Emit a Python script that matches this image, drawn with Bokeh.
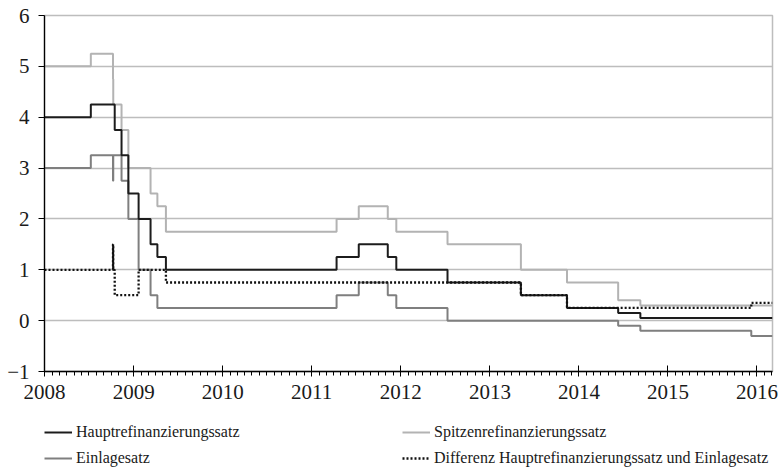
import pandas as pd
from bokeh.plotting import figure
from bokeh.layouts import column
from bokeh.models import (FixedTicker, DatetimeTickFormatter, Range1d, Legend,
                          LegendItem, ColumnDataSource)
from bokeh.embed import file_html
from bokeh.resources import INLINE

# ---- data (ECB key rates, %) ----
end_date = "2016-03-05"

haupt_dates = ["2008-01-01", "2008-07-09", "2008-10-15", "2008-11-12", "2008-12-10",
               "2009-01-21", "2009-03-11", "2009-04-08", "2009-05-13", "2011-04-13",
               "2011-07-13", "2011-11-09", "2011-12-14", "2012-07-11", "2013-05-08",
               "2013-11-13", "2014-06-11", "2014-09-10"]
haupt_vals = [4.00, 4.25, 3.75, 3.25, 2.50, 2.00, 1.50, 1.25, 1.00, 1.25,
              1.50, 1.25, 1.00, 0.75, 0.50, 0.25, 0.15, 0.05]

spitzen_dates = ["2008-01-01", "2008-07-09", "2008-10-08", "2008-10-09", "2008-11-12",
                 "2008-12-10", "2009-03-11", "2009-04-08", "2009-05-13", "2011-04-13",
                 "2011-07-13", "2011-11-09", "2011-12-14", "2012-07-11", "2013-05-08",
                 "2013-11-13", "2014-06-11", "2014-09-10"]
spitzen_vals = [5.00, 5.25, 4.75, 4.25, 3.75, 3.00, 2.50, 2.25, 1.75, 2.00,
                2.25, 2.00, 1.75, 1.50, 1.00, 0.75, 0.40, 0.30]

einlage_dates = ["2008-01-01", "2008-07-09", "2008-10-08", "2008-10-09", "2008-11-12",
                 "2008-12-10", "2009-01-21", "2009-03-11", "2009-04-08", "2011-04-13",
                 "2011-07-13", "2011-11-09", "2011-12-14", "2012-07-11", "2014-06-11",
                 "2014-09-10", "2015-12-09"]
einlage_vals = [3.00, 3.25, 2.75, 3.25, 2.75, 2.00, 1.00, 0.50, 0.25, 0.50,
                0.75, 0.50, 0.25, 0.00, -0.10, -0.20, -0.30]

diff_dates = ["2008-01-01", "2008-10-08", "2008-10-09", "2008-10-15", "2009-01-21",
              "2009-05-13", "2013-05-08", "2013-11-13", "2015-12-09"]
diff_vals = [1.00, 1.50, 1.00, 0.50, 1.00, 0.75, 0.50, 0.25, 0.35]

tick_years = [2008, 2009, 2010, 2011, 2012, 2013, 2014, 2015, 2016]
y_ticks = [-1, 0, 1, 2, 3, 4, 5, 6]

labels = {
    "haupt": "Hauptrefinanzierungssatz",
    "spitzen": "Spitzenrefinanzierungssatz",
    "einlage": "Einlagesatz",
    "diff": "Differenz Hauptrefinanzierungssatz und Einlagesatz",
}

FONT = "'Liberation Serif', serif"

styles = {
    "spitzen": dict(line_color="#b3b3b3", line_width=2),
    "einlage": dict(line_color="#7f7f7f", line_width=2),
    "haupt": dict(line_color="#1c1c1c", line_width=2),
    "diff": dict(line_color="#111111", line_width=2.3, line_dash="2 2"),
}


def src(dates, vals):
    x = pd.to_datetime(dates + [end_date])
    y = vals + [vals[-1]]
    return ColumnDataSource(dict(x=x, y=y))


def ms(ts):
    return pd.Timestamp(ts).value / 1e6


sources = {
    "spitzen": src(spitzen_dates, spitzen_vals),
    "einlage": src(einlage_dates, einlage_vals),
    "haupt": src(haupt_dates, haupt_vals),
    "diff": src(diff_dates, diff_vals),
}

p = figure(width=781, height=408, x_axis_type="datetime",
           x_range=Range1d(pd.Timestamp("2008-01-01"), pd.Timestamp(end_date)),
           y_range=Range1d(-1, 6),
           output_backend="svg", toolbar_location=None, title=None,
           min_border_left=44, min_border_right=9, min_border_top=15,
           min_border_bottom=37)

p.background_fill_color = "white"
p.border_fill_color = "white"
p.outline_line_color = "#bdbdbd"
p.outline_line_width = 1.5

# grid
p.xgrid.visible = False
p.ygrid.ticker = FixedTicker(ticks=y_ticks)
p.ygrid.grid_line_color = "#bdbdbd"
p.ygrid.grid_line_width = 1.5

# series (drawing order: light grey, grey, black, dotted)
for k in ["spitzen", "einlage", "haupt", "diff"]:
    p.step("x", "y", source=sources[k], mode="after", **styles[k])

# x axis
month_ticks = [ms(d) for d in pd.date_range("2008-02-01", end_date, freq="MS")]
year_ticks = [ms(f"{y}-01-01") for y in tick_years]
xa = p.xaxis[0]
xa.ticker = FixedTicker(ticks=year_ticks, minor_ticks=month_ticks)
fmt = "%Y"
xa.formatter = DatetimeTickFormatter(years=fmt, months=fmt, days=fmt, hours=fmt,
                                     hourmin=fmt, minutes=fmt, minsec=fmt,
                                     seconds=fmt, milliseconds=fmt,
                                     microseconds=fmt)
xa.axis_line_color = "black"
xa.axis_line_width = 1.3
xa.major_tick_line_color = "black"
xa.major_tick_in = 6
xa.major_tick_out = 5
xa.minor_tick_line_color = "black"
xa.minor_tick_in = 0
xa.minor_tick_out = 4
xa.major_label_text_font = FONT
xa.major_label_text_font_size = "21px"
xa.major_label_text_color = "#1a1a1a"
xa.major_label_standoff = 8

# y axis
ya = p.yaxis[0]
ya.ticker = FixedTicker(ticks=y_ticks)
ya.major_label_overrides = {-1: "\u22121"}
ya.axis_line_color = "black"
ya.axis_line_width = 1.3
ya.major_tick_line_color = "black"
ya.major_tick_in = 0
ya.major_tick_out = 6
ya.minor_tick_line_color = None
ya.major_label_text_font = FONT
ya.major_label_text_font_size = "21px"
ya.major_label_text_color = "#1a1a1a"
ya.major_label_standoff = 9

# legend strip below the chart (two columns); its proxy lines reuse the
# series sources but fall outside this strip's ranges, so only the legend shows
q = figure(width=781, height=60, x_range=Range1d(0, 1), y_range=Range1d(0, 1),
           output_backend="svg", toolbar_location=None, title=None,
           min_border=0)
q.axis.visible = False
q.grid.visible = False
q.outline_line_color = None
q.background_fill_color = "white"
q.border_fill_color = "white"

order = ["haupt", "spitzen", "einlage", "diff"]
items = []
for k in order:
    r = q.line("x", "y", source=sources[k], **styles[k])
    items.append(LegendItem(label=labels[k], renderers=[r]))

leg = Legend(items=items, location=(0, 0), orientation="horizontal", ncols=2)
leg.border_line_color = None
leg.background_fill_alpha = 0
leg.padding = 0
leg.margin = 0
leg.spacing = 6
leg.glyph_width = 28
leg.glyph_height = 20
leg.label_height = 20
leg.label_width = 320
leg.label_standoff = 4
leg.label_text_font = FONT
leg.label_text_font_size = "16px"
leg.label_text_color = "#1a1a1a"
q.add_layout(leg)

layout = column(p, q, spacing=0)
open("out.html", "w").write(file_html(layout, INLINE))
